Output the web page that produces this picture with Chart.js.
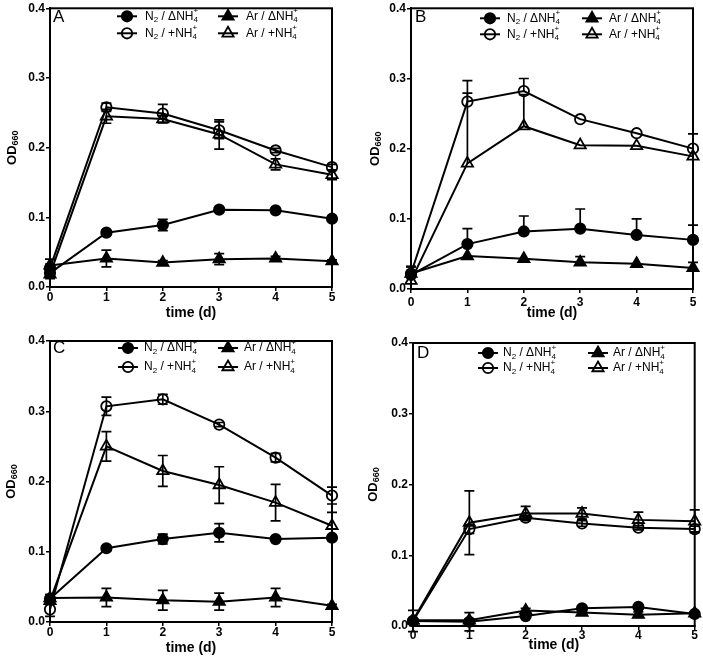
<!DOCTYPE html>
<html><head><meta charset="utf-8">
<script src="https://cdn.jsdelivr.net/npm/chart.js@4.4.1/dist/chart.umd.min.js"></script>
<style>
html,body{margin:0;padding:0;background:#fff;}
#wrap{position:relative;width:703px;height:663px;overflow:hidden;background:#fff}
canvas{position:absolute;left:0;top:0}
</style></head><body><div id="wrap">
<canvas id="cA" width="703" height="663"></canvas>
<canvas id="cB" width="703" height="663"></canvas>
<canvas id="cC" width="703" height="663"></canvas>
<canvas id="cD" width="703" height="663"></canvas>
</div>
<script>
// ---------- data ----------
const days = [0, 1, 2, 3, 4, 5];
const yTickValues = [0, 0.1, 0.2, 0.3, 0.4];
const xTickValues = [0, 1, 2, 3, 4, 5];
const seriesLabels = ['N_{2} / ΔNH_{4}^{+}', 'N_{2} / +NH_{4}^{+}', 'Ar / ΔNH_{4}^{+}', 'Ar / +NH_{4}^{+}'];
const yTitle = 'OD_{660}';
const xTitle = 'time (d)';
const panelLetters = ['A', 'B', 'C', 'D'];

// Panel A
const A_n2Delta    = [0.020, 0.078, 0.089, 0.111, 0.110, 0.098];
const A_n2DeltaErr = [0.006, 0.003, 0.008, 0.003, 0.002, 0.003];
const A_n2Plus     = [0.027, 0.258, 0.249, 0.225, 0.196, 0.172];
const A_n2PlusErr  = [0.006, 0.006, 0.013, 0.012, 0.003, 0.004];
const A_arDelta    = [0.031, 0.041, 0.035, 0.040, 0.041, 0.037];
const A_arDeltaErr = [0.009, 0.012, 0.003, 0.008, 0.003, 0.002];
const A_arPlus     = [0.018, 0.245, 0.241, 0.219, 0.176, 0.161];
const A_arPlusErr  = [0.006, 0.010, 0.005, 0.021, 0.008, 0.007];

// Panel B (upper error bars only)
const B_n2Delta    = [0.020, 0.064, 0.082, 0.086, 0.077, 0.070];
const B_n2DeltaErr = [0.012, 0.022, 0.022, 0.028, 0.023, 0.021];
const B_n2Plus     = [0.022, 0.267, 0.282, 0.242, 0.222, 0.200];
const B_n2PlusErr  = [0.010, 0.030, 0.018, 0.000, 0.000, 0.021];
const B_arDelta    = [0.022, 0.047, 0.043, 0.038, 0.036, 0.030];
const B_arDeltaErr = [0.010, 0.000, 0.000, 0.008, 0.000, 0.008];
const B_arPlus     = [0.012, 0.179, 0.232, 0.205, 0.204, 0.189];
const B_arPlusErr  = [0.012, 0.100, 0.045, 0.000, 0.000, 0.000];

// Panel C
const C_n2Delta    = [0.033, 0.105, 0.118, 0.127, 0.118, 0.120];
const C_n2DeltaErr = [0.006, 0.003, 0.007, 0.013, 0.003, 0.004];
const C_n2Plus     = [0.018, 0.307, 0.317, 0.281, 0.234, 0.180];
const C_n2PlusErr  = [0.010, 0.013, 0.007, 0.003, 0.006, 0.012];
const C_arDelta    = [0.034, 0.035, 0.031, 0.029, 0.035, 0.023];
const C_arDeltaErr = [0.005, 0.013, 0.014, 0.012, 0.013, 0.002];
const C_arPlus     = [0.030, 0.250, 0.215, 0.195, 0.170, 0.137];
const C_arPlusErr  = [0.005, 0.021, 0.022, 0.026, 0.026, 0.019];

// Panel D
const D_n2Delta    = [0.007, 0.006, 0.014, 0.025, 0.027, 0.017];
const D_n2DeltaErr = [0.015, 0.013, 0.003, 0.003, 0.003, 0.003];
const D_n2Plus     = [0.007, 0.137, 0.153, 0.145, 0.139, 0.137];
const D_n2PlusErr  = [0.002, 0.006, 0.003, 0.004, 0.003, 0.004];
const D_arDelta    = [0.008, 0.008, 0.022, 0.019, 0.016, 0.018];
const D_arDeltaErr = [0.002, 0.002, 0.003, 0.003, 0.004, 0.002];
const D_arPlus     = [0.008, 0.146, 0.159, 0.159, 0.150, 0.148];
const D_arPlusErr  = [0.002, 0.045, 0.010, 0.008, 0.011, 0.016];

// ---------- layout / style ----------
const FONT = "'Liberation Sans', Arial, sans-serif";
const markerStyles = [
  {shape: 'circle', filled: true, r: 5.2},
  {shape: 'circle', filled: false, r: 5.2},
  {shape: 'triangle', filled: true, r: 6.5},
  {shape: 'triangle', filled: false, r: 6.5}
];
const panels = [
  {canvas: 'cA', plot: [50, 7, 332, 287], letterPos: [53, 22], titleX: 12, xTitleDy: 26, xTickPad: -1,
   legend: {c1: 77, c2: 178, r1: 8, r2: 25, tg: 18}, upOnly: false,
   series: [A_n2Delta, A_n2Plus, A_arDelta, A_arPlus], errs: [A_n2DeltaErr, A_n2PlusErr, A_arDeltaErr, A_arPlusErr]},
  {canvas: 'cB', plot: [411, 7, 693, 289], letterPos: [415, 22], titleX: 375, xTitleDy: 24, xTickPad: 2,
   legend: {c1: 79, c2: 181, r1: 10, r2: 26, tg: 17}, upOnly: true,
   series: [B_n2Delta, B_n2Plus, B_arDelta, B_arPlus], errs: [B_n2DeltaErr, B_n2PlusErr, B_arDeltaErr, B_arPlusErr]},
  {canvas: 'cC', plot: [50, 341, 332, 622], letterPos: [53, 353], titleX: 11, xTitleDy: 26, xTickPad: -1,
   legend: {c1: 78, c2: 178, r1: 7, r2: 26, tg: 16}, upOnly: false,
   series: [C_n2Delta, C_n2Plus, C_arDelta, C_arPlus], errs: [C_n2DeltaErr, C_n2PlusErr, C_arDeltaErr, C_arPlusErr]},
  {canvas: 'cD', plot: [413, 343, 697, 626], letterPos: [417, 358], titleX: 373, xTitleDy: 19, xTickPad: -2,
   legend: {c1: 75, c2: 185, r1: 10, r2: 25, tg: 15}, upOnly: false,
   series: [D_n2Delta, D_n2Plus, D_arDelta, D_arPlus], errs: [D_n2DeltaErr, D_n2PlusErr, D_arDeltaErr, D_arPlusErr]}
];

// ---------- helpers ----------
function parseRich(s) {
  const parts = [];
  let i = 0, buf = '';
  while (i < s.length) {
    const c = s[i];
    if ((c === '_' || c === '^') && s[i + 1] === '{') {
      if (buf) { parts.push({t: buf, k: 'n'}); buf = ''; }
      const end = s.indexOf('}', i);
      parts.push({t: s.slice(i + 2, end), k: c === '_' ? 'b' : 'p'});
      i = end + 1;
    } else { buf += c; i++; }
  }
  if (buf) parts.push({t: buf, k: 'n'});
  return parts;
}
function richWidth(ctx, parts, size, weight) {
  return layoutRich(ctx, parts, size, weight, 0, 0, false);
}
function layoutRich(ctx, parts, size, weight, x, y, draw) {
  const small = Math.round(size * 0.68);
  let cx = x;
  for (let i = 0; i < parts.length; i++) {
    const p = parts[i];
    if (p.k === 'n') {
      ctx.font = weight + ' ' + size + 'px ' + FONT;
      if (draw) ctx.fillText(p.t, cx, y);
      cx += ctx.measureText(p.t).width;
    } else {
      ctx.font = weight + ' ' + small + 'px ' + FONT;
      let w = ctx.measureText(p.t).width;
      const dy = p.k === 'b' ? size * 0.28 : -size * 0.42;
      if (draw) ctx.fillText(p.t, cx, y + dy);
      const nx = parts[i + 1];
      if (p.k === 'b' && nx && nx.k === 'p') {
        ctx.font = weight + ' ' + small + 'px ' + FONT;
        const w2 = ctx.measureText(nx.t).width;
        if (draw) ctx.fillText(nx.t, cx, y - size * 0.42);
        w = Math.max(w, w2);
        i++;
      }
      cx += w;
    }
  }
  return cx - x;
}
function drawMarker(ctx, st, x, y) {
  ctx.beginPath();
  if (st.shape === 'circle') {
    ctx.arc(x, y, st.r, 0, Math.PI * 2);
  } else {
    let rad = 0;
    ctx.moveTo(x + Math.sin(rad) * st.r, y - Math.cos(rad) * st.r);
    rad += 2 * Math.PI / 3;
    ctx.lineTo(x + Math.sin(rad) * st.r, y - Math.cos(rad) * st.r);
    rad += 2 * Math.PI / 3;
    ctx.lineTo(x + Math.sin(rad) * st.r, y - Math.cos(rad) * st.r);
    ctx.closePath();
  }
  if (st.filled) { ctx.fillStyle = '#000'; ctx.fill(); }
  ctx.lineWidth = 1.8; ctx.strokeStyle = '#000'; ctx.stroke();
}

// ---------- plugins ----------
const errorBarPlugin = {
  id: 'errbars',
  beforeDatasetsDraw(chart) {
    const cfg = chart.options.plugins.errbars;
    const ctx = chart.ctx, xs = chart.scales.x, ys = chart.scales.y;
    ctx.save();
    ctx.strokeStyle = '#000'; ctx.lineWidth = 1.7;
    cfg.errs.forEach((errArr, si) => {
      const vals = cfg.series[si];
      days.forEach((d, i) => {
        const e = errArr[i];
        if (!e) return;
        const x = xs.getPixelForValue(d);
        const yt = ys.getPixelForValue(vals[i] + e);
        const yb = cfg.upOnly ? ys.getPixelForValue(vals[i]) : ys.getPixelForValue(vals[i] - e);
        ctx.beginPath();
        ctx.moveTo(x, yt); ctx.lineTo(x, yb);
        ctx.moveTo(x - 5, yt); ctx.lineTo(x + 5, yt);
        if (!cfg.upOnly) { ctx.moveTo(x - 5, yb); ctx.lineTo(x + 5, yb); }
        ctx.stroke();
      });
    });
    ctx.restore();
  }
};
const decorPlugin = {
  id: 'decor',
  afterDraw(chart) {
    const cfg = chart.options.plugins.decor;
    const ctx = chart.ctx, a = chart.chartArea;
    ctx.save();
    ctx.strokeStyle = '#000'; ctx.lineWidth = 2;
    ctx.strokeRect(a.left, a.top, a.right - a.left, a.bottom - a.top);
    ctx.fillStyle = '#000';
    ctx.font = '17px ' + FONT; ctx.textBaseline = 'alphabetic'; ctx.textAlign = 'left';
    ctx.fillText(cfg.letter, cfg.letterPos[0], cfg.letterPos[1]);
    const L = cfg.legend;
    const cols = [L.c1, L.c1, L.c2, L.c2];
    const rows = [L.r1, L.r2, L.r1, L.r2];
    ctx.textBaseline = 'middle';
    seriesLabels.forEach((lab, i) => {
      const mx = a.left + cols[i], my = a.top + rows[i];
      ctx.strokeStyle = '#000'; ctx.lineWidth = 2;
      ctx.beginPath(); ctx.moveTo(mx - 10, my); ctx.lineTo(mx + 10, my); ctx.stroke();
      drawMarker(ctx, markerStyles[i], mx, my);
      ctx.fillStyle = '#000';
      layoutRich(ctx, parseRich(lab), 12, 'normal', mx + L.tg, my, true);
    });
    const yp = parseRich(yTitle);
    const w = richWidth(ctx, yp, 13, 'bold');
    ctx.save();
    ctx.translate(cfg.titleX, (a.top + a.bottom) / 2);
    ctx.rotate(-Math.PI / 2);
    ctx.textBaseline = 'middle'; ctx.fillStyle = '#000';
    layoutRich(ctx, yp, 13, 'bold', -w / 2, 0, true);
    ctx.restore();
    ctx.font = 'bold 14px ' + FONT; ctx.textAlign = 'center'; ctx.textBaseline = 'middle';
    ctx.fillText(xTitle, (a.left + a.right) / 2, a.bottom + cfg.xTitleDy);
    ctx.restore();
  }
};

// ---------- charts ----------
const Y_W = 40, X_H = 20;
panels.forEach((p, pi) => {
  const [l, t, r, b] = p.plot;
  const datasets = p.series.map((vals, si) => {
    const st = markerStyles[si];
    return {
      label: seriesLabels[si],
      data: days.map((d, i) => ({x: d, y: vals[i]})),
      borderColor: '#000', borderWidth: 2, tension: 0,
      pointStyle: st.shape, pointRadius: st.r, pointHoverRadius: st.r,
      pointBackgroundColor: st.filled ? '#000' : 'rgba(0,0,0,0)',
      pointBorderColor: '#000', pointBorderWidth: 1.8,
      clip: false
    };
  });
  new Chart(document.getElementById(p.canvas), {
    type: 'line',
    data: {datasets},
    plugins: [errorBarPlugin, decorPlugin],
    options: {
      responsive: false, animation: false, events: [],
      layout: {padding: {left: l - Y_W, top: t, right: 703 - r, bottom: 663 - b - X_H}},
      plugins: {
        legend: {display: false}, tooltip: {enabled: false},
        errbars: {series: p.series, errs: p.errs, upOnly: p.upOnly},
        decor: {letter: panelLetters[pi], letterPos: p.letterPos, legend: p.legend, titleX: p.titleX, xTitleDy: p.xTitleDy}
      },
      scales: {
        x: {
          type: 'linear', min: 0, max: 5,
          afterFit(s) { s.height = X_H; },
          afterBuildTicks(s) { s.ticks = xTickValues.map(v => ({value: v})); },
          ticks: {color: '#000', padding: p.xTickPad, font: {family: FONT, size: 12, weight: 'bold'}, callback: v => String(v), maxRotation: 0, autoSkip: false},
          grid: {display: true, drawOnChartArea: false, drawTicks: true, tickLength: 4, color: '#000', lineWidth: 1.5},
          border: {display: true, color: '#000', width: 2}
        },
        y: {
          type: 'linear', min: 0, max: 0.4,
          afterFit(s) { s.width = Y_W; },
          afterBuildTicks(s) { s.ticks = yTickValues.map(v => ({value: v})); },
          ticks: {color: '#000', padding: 1, font: {family: FONT, size: 12, weight: 'bold'}, callback: v => Number(v).toFixed(1), autoSkip: false},
          grid: {display: true, drawOnChartArea: false, drawTicks: true, tickLength: 4, color: '#000', lineWidth: 1.5},
          border: {display: true, color: '#000', width: 2}
        }
      }
    }
  });
});
</script>
</body></html>
